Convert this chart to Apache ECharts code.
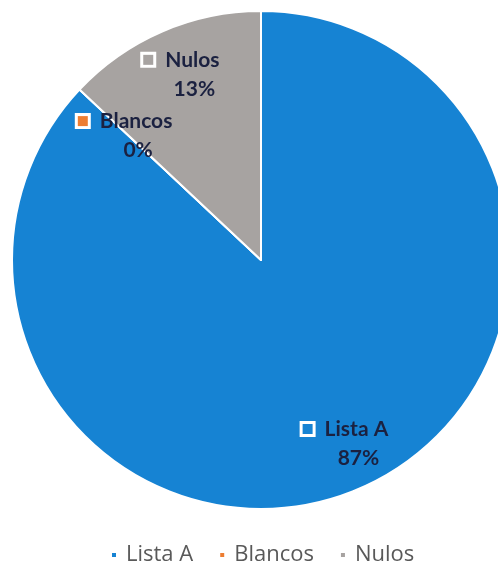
<!DOCTYPE html>
<html>
<head>
<meta charset="utf-8">
<script src="https://cdn.jsdelivr.net/npm/echarts@6/dist/echarts.min.js"></script>
<style>
  html, body { margin: 0; padding: 0; background: #fff; }
  #chart { width: 498px; height: 579px; }
</style>
</head>
<body>
<div id="chart"></div>
<script>
// datos del gráfico
const categories = ['Lista A', 'Blancos', 'Nulos']
const percents = [87, 0, 13]
const colors = ['#1683d3', '#ed7d31', '#a7a3a1']

const chart = echarts.init(document.getElementById('chart'))

const data = categories.map((name, i) => ({
  name,
  value: percents[i],
  itemStyle: { color: colors[i] }
}))

// etiqueta con la clave de leyenda (cuadro blanco con color)
const labelFor = (i) => ({
  show: true,
  position: 'inside',
  // la etiqueta de Blancos va un poco más hacia el centro
  padding: i === 1 ? [22, 0, 0, 28] : 0,
  formatter: (p) => `{key${i}|}{name|${p.name}}\n{pct|${p.value}%}`,
  rich: {
    ['key' + i]: {
      width: 10,
      height: 10,
      backgroundColor: colors[i],
      borderColor: '#fff',
      borderWidth: 3,
      padding: 0
    },
    name: {
      fontFamily: 'Lato',
      fontWeight: 'bold',
      fontSize: 21,
      color: '#1b2140',
      padding: [0, 0, 0, 12],
      lineHeight: 29
    },
    pct: {
      fontFamily: 'Lato',
      fontWeight: 'bold',
      fontSize: 21,
      color: '#1b2140',
      padding: [0, 0, 0, 26],
      lineHeight: 29
    }
  }
})

const option = {
  animation: false,
  color: colors,
  legend: {
    data: categories,
    left: 105,
    top: 539,
    icon: 'rect',
    itemWidth: 6,
    itemHeight: 6,
    itemGap: 25,
    textStyle: {
      fontFamily: 'Open Sans',
      fontSize: 22,
      color: '#595959',
      padding: [0, 0, 0, 4]
    }
  },
  series: [
    {
      type: 'pie',
      center: [261, 260],
      radius: 249,
      startAngle: 90,
      clockwise: true,
      avoidLabelOverlap: false,
      itemStyle: { borderColor: '#fff', borderWidth: 2 },
      label: { show: false },
      labelLine: { show: false },
      data
    },
    {
      // serie transparente solo para colocar las etiquetas a 0.8 del radio
      type: 'pie',
      center: [261, 260],
      radius: [149, 249],
      startAngle: 90,
      clockwise: true,
      minAngle: 3,
      minShowLabelAngle: 0,
      silent: true,
      avoidLabelOverlap: false,
      itemStyle: { color: 'transparent', borderWidth: 0 },
      labelLine: { show: false },
      data: categories.map((name, i) => ({
        name,
        value: percents[i],
        label: labelFor(i)
      }))
    }
  ]
}

chart.setOption(option)
</script>
</body>
</html>
